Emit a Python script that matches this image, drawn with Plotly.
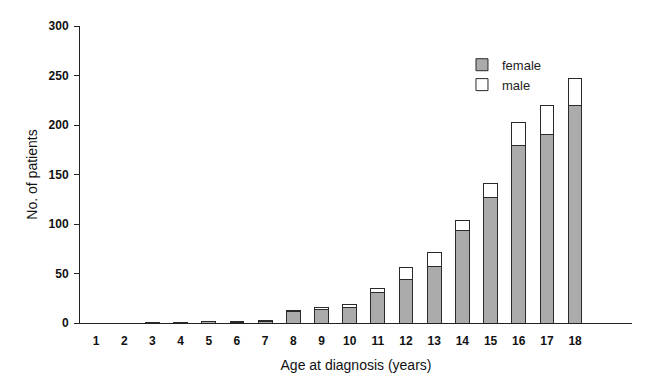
import plotly.graph_objects as go

ages = list(range(1, 19))
female = [0, 0, 1, 1, 2, 1, 2, 12, 14, 16, 31, 44, 57, 93, 127, 179, 190, 220]
male = [0, 0, 0, 0, 0, 1, 1, 1, 2, 3, 4, 12, 14, 11, 14, 24, 30, 27]
tick_labels = [str(a) for a in ages]

fig = go.Figure()
fig.add_trace(go.Bar(x=ages, y=female, name="female", legendgroup="f",
                     marker=dict(color="#ababab", line=dict(color="#2a2a2a", width=1)), width=0.49))
fig.add_trace(go.Bar(x=ages, y=male, name="male", legendgroup="m",
                     marker=dict(color="white", line=dict(color="#2a2a2a", width=1)), width=0.49))

FONT = "Liberation Sans, Arial, sans-serif"
fig.update_layout(
    barmode="stack",
    width=653, height=379,
    margin=dict(l=72, r=29, t=11, b=64),
    paper_bgcolor="white", plot_bgcolor="white",
    font=dict(family=FONT, color="#111"),
    legend=dict(x=0.692, y=0.92, xanchor="left", yanchor="top", bgcolor="rgba(0,0,0,0)",
                font=dict(size=13, color="#222"), traceorder="normal", tracegroupgap=3),
    xaxis=dict(range=[0.43, 20.02], tickmode="array", tickvals=ages, ticktext=tick_labels,
               showline=True, linecolor="#222", linewidth=1, ticks="", showgrid=False, zeroline=False,
               ticklabelstandoff=7,
               tickfont=dict(size=12, family=FONT, weight="bold"),
               title=dict(text="Age at diagnosis (years)", font=dict(size=14), standoff=12)),
    yaxis=dict(range=[0, 300], tickvals=[0, 50, 100, 150, 200, 250, 300],
               showline=True, linecolor="#222", linewidth=1, ticks="outside", ticklen=5, tickcolor="#222",
               showgrid=False, zeroline=False, ticklabelstandoff=3,
               tickfont=dict(size=12, family=FONT, weight="bold"),
               title=dict(text="No. of patients", font=dict(size=14), standoff=7)),
)

fig.write_html("out.html")
